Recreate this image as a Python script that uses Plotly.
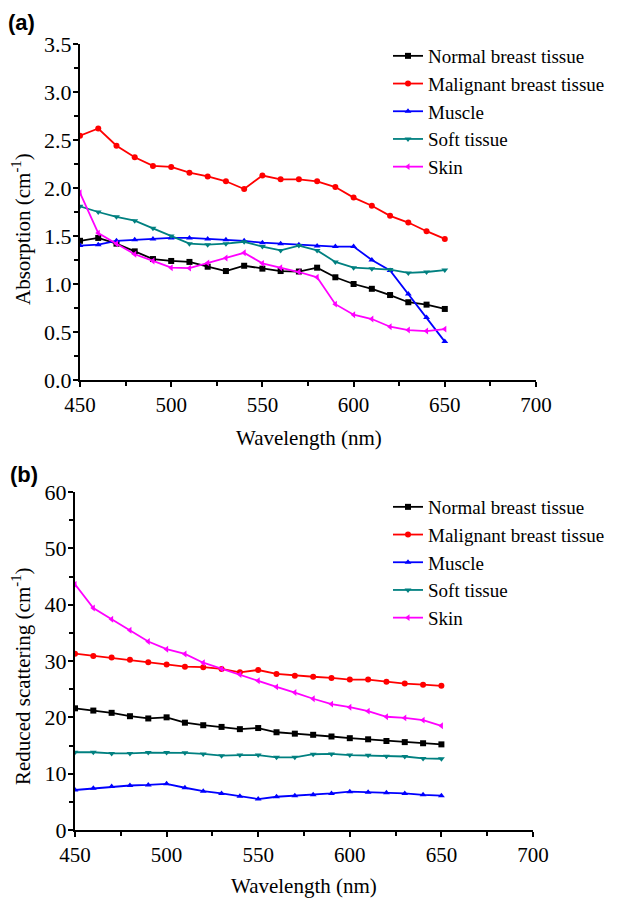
import plotly.graph_objects as go

wavelength = [450, 460, 470, 480, 490, 500, 510, 520, 530, 540, 550,
              560, 570, 580, 590, 600, 610, 620, 630, 640, 650]

series_names = ["Normal breast tissue", "Malignant breast tissue", "Muscle", "Soft tissue", "Skin"]

# Panel (a): absorption (cm^-1)
abs_normal = [1.45, 1.48, 1.42, 1.34, 1.26, 1.24, 1.23, 1.18, 1.135, 1.19, 1.16,
              1.135, 1.13, 1.17, 1.07, 1.00, 0.95, 0.885, 0.81, 0.785, 0.74]
abs_malignant = [2.545, 2.62, 2.44, 2.32, 2.23, 2.22, 2.16, 2.12, 2.07, 1.99, 2.13,
                 2.09, 2.09, 2.07, 2.01, 1.90, 1.815, 1.71, 1.64, 1.55, 1.47]
abs_muscle = [1.40, 1.41, 1.45, 1.46, 1.47, 1.48, 1.48, 1.47, 1.46, 1.45, 1.43,
              1.42, 1.41, 1.395, 1.39, 1.39, 1.25, 1.14, 0.895, 0.65, 0.40]
abs_soft = [1.81, 1.75, 1.70, 1.66, 1.58, 1.50, 1.42, 1.41, 1.42, 1.44, 1.39,
            1.35, 1.40, 1.35, 1.23, 1.17, 1.16, 1.15, 1.115, 1.125, 1.145]
abs_skin = [1.95, 1.53, 1.42, 1.31, 1.24, 1.17, 1.165, 1.22, 1.27, 1.325, 1.215,
            1.17, 1.125, 1.07, 0.79, 0.68, 0.635, 0.555, 0.52, 0.51, 0.53]

# Panel (b): reduced scattering (cm^-1)
sca_normal = [21.6, 21.2, 20.8, 20.2, 19.8, 20.0, 19.05, 18.6, 18.3, 17.9, 18.1,
              17.35, 17.1, 16.9, 16.6, 16.3, 16.1, 15.8, 15.6, 15.4, 15.2]
sca_malignant = [31.3, 30.9, 30.6, 30.2, 29.8, 29.4, 29.0, 28.9, 28.6, 28.0, 28.4,
                 27.7, 27.4, 27.2, 27.0, 26.7, 26.7, 26.3, 26.0, 25.8, 25.6]
sca_muscle = [7.1, 7.4, 7.7, 7.9, 8.0, 8.2, 7.5, 6.9, 6.5, 6.0, 5.5,
              5.9, 6.1, 6.25, 6.5, 6.8, 6.7, 6.6, 6.5, 6.25, 6.1]
sca_soft = [13.8, 13.8, 13.6, 13.6, 13.75, 13.75, 13.7, 13.5, 13.2, 13.3, 13.3,
            12.9, 12.9, 13.45, 13.5, 13.3, 13.25, 13.1, 13.05, 12.7, 12.65]
sca_skin = [43.6, 39.4, 37.4, 35.45, 33.45, 32.1, 31.25, 29.7, 28.6, 27.6, 26.5,
            25.4, 24.4, 23.3, 22.35, 21.8, 21.1, 20.1, 19.9, 19.5, 18.5]

colors = ["#000000", "#ff0000", "#0000ff", "#008080", "#ff00ff"]
symbols = ["square", "circle", "triangle-up", "triangle-down", "triangle-left"]

x_ticks = [450, 500, 550, 600, 650, 700]

FONT = "Liberation Serif"
fig = go.Figure()

abs_data = [abs_normal, abs_malignant, abs_muscle, abs_soft, abs_skin]
sca_data = [sca_normal, sca_malignant, sca_muscle, sca_soft, sca_skin]

for name, ys, c, s in zip(series_names, abs_data, colors, symbols):
    fig.add_trace(go.Scatter(x=wavelength, y=ys, name=name, mode="lines+markers",
                             line=dict(color=c, width=1.8),
                             marker=dict(symbol=s, size=6, color=c),
                             xaxis="x", yaxis="y", legend="legend"))
for name, ys, c, s in zip(series_names, sca_data, colors, symbols):
    fig.add_trace(go.Scatter(x=wavelength, y=ys, name=name, mode="lines+markers",
                             line=dict(color=c, width=1.8),
                             marker=dict(symbol=s, size=6, color=c),
                             xaxis="x2", yaxis="y2", legend="legend2"))

W, H = 627, 898
axis_common = dict(showline=True, linecolor="black", linewidth=2, ticks="outside",
                   ticklen=5, tickwidth=1.5, tickcolor="black", showgrid=False,
                   zeroline=False, mirror=False, automargin=False)
xtickfont = dict(family=FONT, size=21, color="black")
ytickfont = dict(family=FONT, size=22, color="black")
minor_common = dict(ticks="outside", ticklen=4, tickcolor="black", tickwidth=1.5)

def px_x(p):
    return p / W

def px_y(p):
    return 1 - p / H

title_font = dict(family=FONT, size=21, color="black")
legend_font = dict(family=FONT, size=19, color="black")

fig.update_layout(
    width=W, height=H, margin=dict(l=0, r=0, t=0, b=0, autoexpand=False),
    paper_bgcolor="white", plot_bgcolor="white",
    font=dict(family=FONT, color="black"),
    xaxis=dict(domain=[px_x(80), px_x(536)], anchor="y", range=[450, 700], tickvals=x_ticks,
               tickfont=xtickfont, minor=dict(dtick=25, tick0=450, **minor_common), **axis_common),
    yaxis=dict(domain=[px_y(380), px_y(44)], anchor="x", range=[0, 3.5], dtick=0.5,
               tickformat=".1f", tickfont=ytickfont, ticklabelstandoff=-3,
               minor=dict(dtick=0.25, tick0=0, **minor_common), **axis_common),
    xaxis2=dict(domain=[px_x(75), px_x(533)], anchor="y2", range=[450, 700], tickvals=x_ticks,
                tickfont=xtickfont, minor=dict(dtick=25, tick0=450, **minor_common), **axis_common),
    yaxis2=dict(domain=[px_y(830), px_y(492)], anchor="x2", range=[0, 60], dtick=10,
                tickfont=ytickfont, ticklabelstandoff=-3,
                minor=dict(dtick=5, tick0=0, **minor_common), **axis_common),
    legend=dict(x=px_x(388), y=px_y(37), xanchor="left", yanchor="top",
                bgcolor="rgba(0,0,0,0)", font=legend_font, tracegroupgap=0),
    legend2=dict(x=px_x(388), y=px_y(488), xanchor="left", yanchor="top",
                 bgcolor="rgba(0,0,0,0)", font=legend_font, tracegroupgap=0),
    annotations=[
        dict(text="<b>(a)</b>", x=px_x(6), y=px_y(8), xref="paper", yref="paper",
             xanchor="left", yanchor="top", showarrow=False,
             font=dict(family="Liberation Sans", size=22, color="black")),
        dict(text="<b>(b)</b>", x=px_x(8), y=px_y(460), xref="paper", yref="paper",
             xanchor="left", yanchor="top", showarrow=False,
             font=dict(family="Liberation Sans", size=22, color="black")),
        dict(text="Wavelength (nm)", x=px_x(309), y=px_y(438), xref="paper", yref="paper",
             xanchor="center", yanchor="middle", showarrow=False, font=title_font),
        dict(text="Wavelength (nm)", x=px_x(304), y=px_y(886), xref="paper", yref="paper",
             xanchor="center", yanchor="middle", showarrow=False, font=title_font),
        dict(text="Absorption (cm<sup>-1</sup>)", x=px_x(21), y=px_y(229), xref="paper", yref="paper",
             xanchor="center", yanchor="middle", textangle=-90, showarrow=False, font=title_font),
        dict(text="Reduced scattering (cm<sup>-1</sup>)", x=px_x(21), y=px_y(676), xref="paper", yref="paper",
             xanchor="center", yanchor="middle", textangle=-90, showarrow=False, font=title_font),
    ],
)

fig.write_html("out.html")
